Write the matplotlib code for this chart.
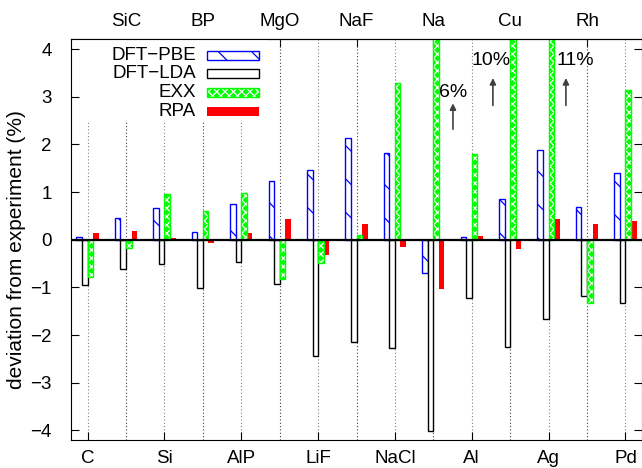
import numpy as np
import matplotlib.pyplot as plt
from matplotlib.patches import Rectangle

plt.rcParams['font.family'] = ['Liberation Sans', 'DejaVu Sans']
plt.rcParams['font.size'] = 13.5
plt.rcParams['hatch.linewidth'] = 0.9

# deviation from experiment (%)
materials = ['C', 'SiC', 'Si', 'BP', 'AlP', 'MgO', 'LiF', 'NaF',
             'NaCl', 'Na', 'Al', 'Cu', 'Ag', 'Rh', 'Pd']
pbe = [0.06, 0.46, 0.66, 0.17, 0.75, 1.24, 1.47, 2.13, 1.83, -0.69, 0.06, 0.86, 1.89, 0.68, 1.39]
lda = [-0.94, -0.61, -0.50, -1.02, -0.47, -0.92, -2.44, -2.14, -2.27, -4.01, -1.22, -2.24, -1.66, -1.19, -1.32]
exx = [-0.78, -0.17, 0.95, 0.61, 0.99, -0.82, -0.48, 0.10, 3.29, 6.0, 1.79, 10.0, 11.0, -1.33, 3.15]
rpa = [0.14, 0.18, 0.03, -0.06, 0.15, 0.43, -0.32, 0.34, -0.15, -1.03, 0.08, -0.19, 0.44, 0.34, 0.39]

# off-scale EXX values marked with arrows
off_labels = ['6%', '10%', '11%']
off_text_x = [9.52, 10.49, 12.70]
off_text_y = [3.08, 3.76, 3.76]
off_arrow_x = [9.51, 10.55, 12.45]
off_arrow_y0 = [2.26, 2.76, 2.76]
off_arrow_y1 = [2.92, 3.45, 3.45]

x = np.arange(len(materials))
w = 0.145

fig = plt.figure(figsize=(6.42, 4.68), dpi=100)
ax = fig.add_axes([0.1106, 0.0598, 0.8894, 0.8558])

# vertical dotted grid
for i in x:
    ax.axvline(i, ls=(0, (1, 2)), lw=0.8, color='0.25' if i % 2 else '0.5', zorder=0.5)

ax.bar(x - 1.5 * w, pbe, w, facecolor='white', edgecolor='blue', hatch='\\', lw=1, zorder=2)
ax.bar(x - 0.5 * w, lda, w, facecolor='white', edgecolor='black', lw=1, zorder=2)
ax.bar(x + 0.5 * w, exx, w, facecolor='#00ff00', edgecolor='white', hatch='xxxx', lw=0, zorder=2)
ax.bar(x + 0.5 * w, exx, w, fill=False, edgecolor='#00ff00', lw=1, zorder=2.1)
ax.bar(x + 1.5 * w, rpa, w, color='red', lw=0, zorder=2)
ax.axhline(0, color='black', lw=1.6, zorder=3)

for lab, tx, ty, axx, y0, y1 in zip(off_labels, off_text_x, off_text_y,
                                    off_arrow_x, off_arrow_y0, off_arrow_y1):
    ax.text(tx, ty, lab, ha='center', va='center', fontsize=14)
    ax.annotate('', xy=(axx, y1), xytext=(axx, y0),
                arrowprops=dict(arrowstyle='-|>', color='0.25', lw=1.2, mutation_scale=9))

ax.set_xlim(-0.43, 14.43)
ax.set_ylim(-4.2, 4.2)
ax.set_yticks(range(-4, 5))
ax.set_yticklabels([str(v).replace('-', '\u2212') for v in range(-4, 5)])
ax.set_xticks(x[::2])
ax.set_xticklabels(materials[::2])
ax.tick_params(axis='x', direction='in', length=6, top=False, pad=7)
ax.tick_params(axis='y', direction='in', length=6, right=True, pad=14)

top = ax.secondary_xaxis('top')
top.set_xticks(x[1::2])
top.set_xticklabels(materials[1::2])
top.tick_params(direction='in', length=6, pad=7)

ax.set_ylabel('deviation from experiment (%)', fontsize=15)
ax.yaxis.set_label_coords(-0.078, 0.475)

# legend (text right aligned, swatch on the right), on an opaque box
ax.add_patch(Rectangle((0.004, 0.795), 0.34, 0.205, transform=ax.transAxes,
                       facecolor='white', edgecolor='none', zorder=1.5))
leg_names = ['DFT\u2212PBE', 'DFT\u2212LDA', 'EXX', 'RPA']
leg_y = [0.961, 0.915, 0.868, 0.821]
leg_styles = [dict(facecolor='white', edgecolor='blue', hatch='\\', lw=1),
              dict(facecolor='white', edgecolor='black', lw=1),
              dict(facecolor='#00ff00', edgecolor='white', hatch='xxxx', lw=0),
              dict(facecolor='red', edgecolor='none', lw=0)]
for name, yy, st in zip(leg_names, leg_y, leg_styles):
    ax.text(0.219, yy, name, transform=ax.transAxes, ha='right', va='center', zorder=4)
    ax.add_patch(Rectangle((0.238, yy - 0.011), 0.091, 0.022, transform=ax.transAxes,
                           zorder=4, **st))
ax.add_patch(Rectangle((0.238, leg_y[2] - 0.011), 0.091, 0.022, transform=ax.transAxes,
                       fill=False, edgecolor='#00ff00', lw=1, zorder=4.1))

fig.savefig('out.png', dpi=100)
